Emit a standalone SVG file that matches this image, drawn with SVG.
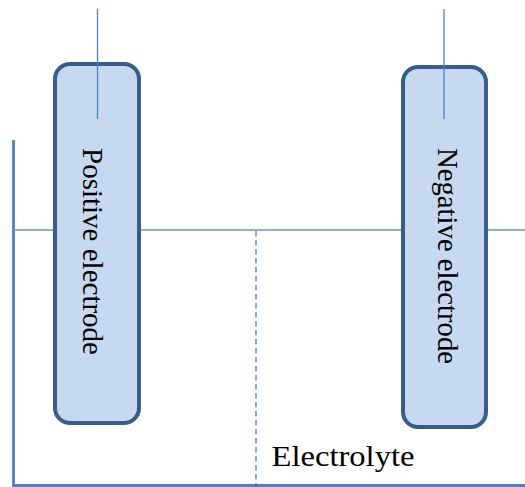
<svg xmlns="http://www.w3.org/2000/svg" width="525" height="487" viewBox="0 0 525 487">
<style>
.box{fill:#c6d9f1;stroke:#385d8a;stroke-width:4}
.lead{stroke:#4f81bd;stroke-width:1.3;fill:none}
.level{stroke:#6a95c9;stroke-width:1.6;fill:none}
.tank{stroke:#4f81bd;stroke-width:2.8;fill:none}
.sep{stroke:#4a86d0;stroke-width:1.4;fill:none;stroke-dasharray:5.500 3.500}
text{font-family:"Liberation Serif","DejaVu Serif",serif;fill:#000;font-size:30px}
</style>
<rect width="525" height="487" fill="#fff"/>
<g id="connectors">
<path id="tank" class="tank" d="M13.500 140V485.500H525"/>
<path id="level" class="level" d="M14 230H525"/>
<path id="separator" class="sep" d="M256 231V485"/>
</g>
<g id="positive-electrode">
<rect class="box" x="55" y="64" width="84" height="359" rx="15"/>
<path class="lead" d="M97.500 9V119"/>
<text transform="translate(83 148) rotate(90)" textLength="207" lengthAdjust="spacingAndGlyphs">Positive electrode</text>
</g>
<g id="negative-electrode">
<rect class="box" x="403" y="67" width="83" height="360" rx="15"/>
<path class="lead" d="M444 9V119"/>
<text transform="translate(438 148) rotate(90)" textLength="216" lengthAdjust="spacingAndGlyphs">Negative electrode</text>
</g>
<g id="electrolyte">
<text x="271.500" y="466" textLength="143" lengthAdjust="spacingAndGlyphs">Electrolyte</text>
</g>
</svg>
